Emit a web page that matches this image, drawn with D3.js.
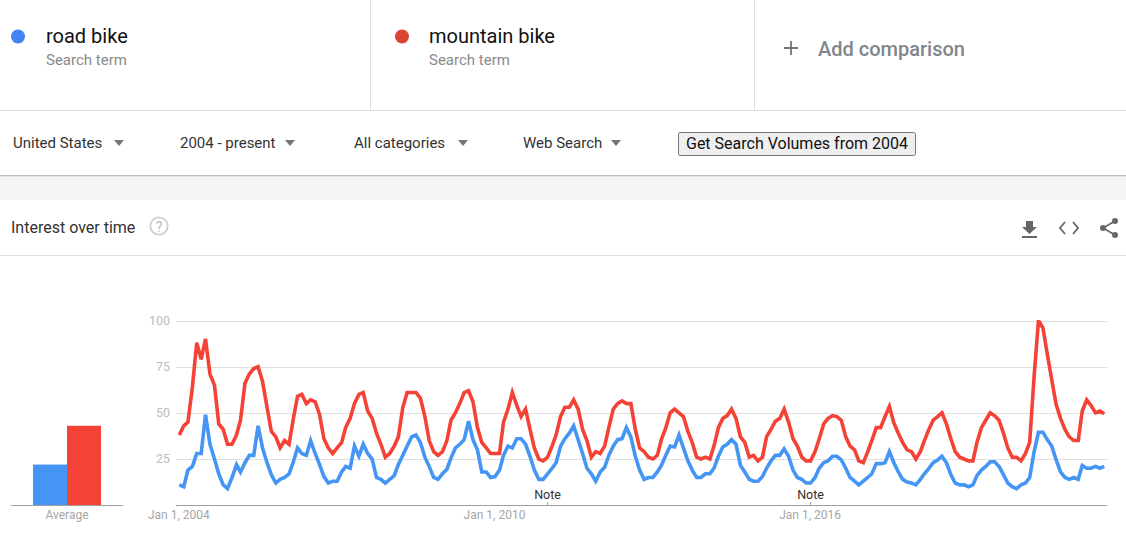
<!DOCTYPE html>
<html>
<head>
<meta charset="utf-8">
<script src="https://cdnjs.cloudflare.com/ajax/libs/d3/7.8.5/d3.min.js"></script>
<style>
  html, body { margin: 0; padding: 0; background: #fff; overflow: hidden; }
  svg { display: block; font-family: Roboto, Arial, sans-serif; }
</style>
</head>
<body>
<div id="chart"></div>
<script>
// monthly values from Jan 2004
const roadBike = [
  11, 10, 19, 21, 28, 28, 49, 33, 25, 17, 11, 9,
  15, 22, 18, 23, 27, 27, 43, 31, 23, 16.5, 12, 14,
  15, 17, 23, 31, 28, 27, 35, 28, 22, 15.5, 12, 13,
  13, 18, 21, 20, 32, 26.5, 33, 28, 25, 15, 14, 12,
  14, 16, 22, 27, 32, 37, 38, 34, 26, 21, 15, 14,
  17, 19.5, 25.5, 31, 33, 35.5, 45.5, 35.5, 30, 18, 18, 15,
  15.5, 19, 27, 32, 31, 36, 36, 33, 26.5, 19, 14, 14,
  17, 20, 23, 32, 36, 39, 43, 35.5, 28, 20, 17, 13,
  18, 20.5, 27, 32, 35.5, 36, 42, 37, 26.5, 19, 14, 15,
  15, 18, 21.5, 27, 32, 31.5, 38, 31, 24, 19, 15, 15,
  17, 17, 20, 26.5, 31.5, 33, 35.5, 33, 21.5, 18, 14, 13,
  13, 15.5, 20, 24, 27, 27, 30.5, 26.5, 19, 15, 14, 12,
  12, 15, 20, 23, 24, 26.5, 26.5, 24.5, 20, 15, 13, 11,
  13, 15, 17, 22.5, 22.5, 23, 29, 23, 18, 14, 12.5, 12,
  11, 14, 17, 20, 23, 24.5, 26.5, 23, 16.5, 12, 11, 11,
  10, 11, 16, 19, 21, 23.5, 23.5, 21, 16.5, 12, 10, 9,
  11, 12, 15, 29, 39.5, 39.5, 35.5, 32, 24.5, 18, 15, 14,
  15, 14, 21.5, 20, 20, 21, 20, 21
];
const mountainBike = [
  38, 43, 45, 64, 88, 79, 90, 71, 65, 44, 41, 33,
  33, 38, 46, 66, 71, 74, 75, 67, 53, 40, 37, 31,
  35, 33, 46, 59, 60, 55, 57, 56, 49, 36, 31, 28,
  31, 34, 42, 47, 55, 60, 61, 51, 47, 39, 33, 26,
  28, 32, 37, 53, 61, 61, 61, 58, 48, 35, 29, 27,
  29, 35, 46, 50, 55, 61, 62, 56, 42, 34, 31, 28,
  28, 28, 45, 52, 61, 54, 48, 52, 41, 31, 25, 24,
  26, 32, 38, 48, 53, 53, 57, 52, 41, 35, 26, 29,
  28, 32, 42, 52, 55, 56.5, 55, 55, 41, 31, 29, 26,
  25, 27, 35.5, 42, 50, 52, 50, 48, 40, 34, 26, 25,
  26, 25, 32, 42, 47, 48.5, 52, 47, 37, 34, 26, 27,
  24, 26, 37, 41, 45.5, 47, 52, 45, 36, 32, 26, 24,
  24, 29, 36, 44, 47, 48.5, 48, 46, 37, 32, 30, 24,
  23, 29, 35, 42, 42, 48, 53.5, 44.5, 39, 34, 30, 29,
  25, 29, 35, 41, 46, 48, 50, 44, 36, 29, 26, 25,
  24, 24, 34, 42, 46, 50, 48.5, 46, 39, 31, 26, 26,
  24, 28, 34, 70, 100, 96, 82, 68, 54.5, 47, 41, 37,
  35, 35, 51, 57, 54, 50, 51, 49.5
];
const averages = [22, 43];
const termNames = ['road bike', 'mountain bike'];
const filters = ['United States', '2004 - present', 'All categories', 'Web Search'];
const yTicks = [25, 50, 75, 100];
const xTickDates = [new Date(Date.UTC(2004, 0, 1)), new Date(Date.UTC(2010, 0, 1)), new Date(Date.UTC(2016, 0, 1))];
const noteDates = [new Date(Date.UTC(2011, 0, 1)), new Date(Date.UTC(2016, 0, 1))];

const W = 1126, H = 548;
const FILL_BLUE = '#4495f4', FILL_RED = '#f44336';

const svg = d3.select('#chart').append('svg').attr('width', W).attr('height', H);

const hline = (x1, x2, y, c) => svg.append('line')
  .attr('x1', x1).attr('x2', x2).attr('y1', y).attr('y2', y).attr('stroke', c);
const vline = (x, y1, y2, c) => svg.append('line')
  .attr('x1', x).attr('x2', x).attr('y1', y1).attr('y2', y2).attr('stroke', c);
const label = (x, y, s, size, fill) => svg.append('text')
  .attr('x', x).attr('y', y).attr('font-size', size).attr('fill', fill).text(s);

// --- search term header ---
vline(370.5, 0, 110, '#e0e0e0');
vline(754.5, 0, 110, '#e0e0e0');
hline(0, W, 110.5, '#e0e0e0');

[[18, 46, '#4285f4'], [402, 429, '#db4437']].forEach(([cx, tx, c], i) => {
  svg.append('circle').attr('cx', cx).attr('cy', 36.5).attr('r', 7).attr('fill', c);
  label(tx, 43, termNames[i], 20, '#111');
  label(tx, 65, 'Search term', 15, '#8a8a8a');
});

svg.append('path').attr('d', 'M791 41V55M784 48H798').attr('stroke', '#757575').attr('stroke-width', 1.8);
label(818, 56, 'Add comparison', 20, '#80868b').attr('font-weight', 500);

// --- filter row ---
const filterX = [13, 180, 354, 523];
const arrowX = [119, 290, 463, 616];
filters.forEach((f, i) => {
  label(filterX[i], 148, f, 15, '#333');
  const a = arrowX[i];
  svg.append('path').attr('d', `M${a - 5} 140H${a + 5}L${a} 146Z`).attr('fill', '#757575');
});

svg.append('rect').attr('x', 678.5).attr('y', 132.5).attr('width', 237).attr('height', 23)
  .attr('rx', 2).attr('fill', '#efefef').attr('stroke', '#767676');
label(797, 149, 'Get Search Volumes from 2004', 16, '#111').attr('text-anchor', 'middle');

// --- grey band with shadow ---
svg.append('rect').attr('x', 0).attr('y', 176).attr('width', W).attr('height', 24).attr('fill', '#f5f5f5');
hline(0, W, 175.5, '#bdbdbd');
hline(0, W, 176.5, '#e3e3e3');

// --- card title ---
label(11, 233, 'Interest over time', 16, '#333');
svg.append('circle').attr('cx', 159).attr('cy', 226).attr('r', 8.7)
  .attr('fill', 'none').attr('stroke', '#cfcfcf').attr('stroke-width', 1.8);
label(159, 231.5, '?', 15, '#bdbdbd').attr('text-anchor', 'middle');
hline(0, W, 255.5, '#e0e0e0');

// icons
svg.append('path').attr('d', 'M1026 221H1033V227H1037L1029.5 234L1022 227H1026ZM1022 236H1037V238H1022Z').attr('fill', '#666');
svg.append('path').attr('d', 'M1065 222L1060 228L1065 234M1073 222L1078 228L1073 234')
  .attr('fill', 'none').attr('stroke', '#666').attr('stroke-width', 1.8);
svg.append('path').attr('d', 'M1115 221L1103 228L1115 235').attr('fill', 'none').attr('stroke', '#666').attr('stroke-width', 1.6);
[[1115, 221], [1103, 228], [1115, 235]].forEach(([cx, cy]) => {
  svg.append('circle').attr('cx', cx).attr('cy', cy).attr('r', 3).attr('fill', '#666');
});

// --- scales ---
const y = d3.scaleLinear().domain([0, 100]).range([505.2, 320.5]);
const x = d3.scaleUtc()
  .domain([new Date(Date.UTC(2004, 0, 1)), new Date(Date.UTC(2016, 0, 1))])
  .range([179.3, 810.6]);
const months = roadBike.map((_, i) => new Date(Date.UTC(2004, i, 1)));

// average bars
const barX = d3.scaleBand().domain(termNames).range([33, 101]);
svg.append('g').selectAll('rect').data(averages).join('rect')
  .attr('x', (d, i) => barX(termNames[i]))
  .attr('width', barX.bandwidth())
  .attr('y', d => y(d))
  .attr('height', d => y(0) - y(d))
  .attr('fill', (d, i) => i === 0 ? FILL_BLUE : FILL_RED);
hline(11, 123, 505.5, '#9e9e9e');
label(67, 519, 'Average', 12, '#a6a6a6').attr('text-anchor', 'middle');

// gridlines and tick labels
const grid = svg.append('g');
yTicks.forEach(t => {
  grid.append('line').attr('x1', 176).attr('x2', 1107)
    .attr('y1', Math.round(y(t)) + 0.5).attr('y2', Math.round(y(t)) + 0.5)
    .attr('stroke', '#e0e0e0');
  grid.append('text').attr('x', 170).attr('y', y(t) + 4)
    .attr('text-anchor', 'end').attr('font-size', 12.5).attr('fill', '#bdbdbd').text(t);
});
hline(176, 1107, 505.5, '#9e9e9e');

const fmt = d3.utcFormat('%b %-d, %Y');
xTickDates.forEach(d => {
  svg.append('text').attr('x', x(d) - 0.5).attr('y', 519)
    .attr('text-anchor', 'middle').attr('font-size', 12).attr('fill', '#a6a6a6')
    .text(fmt(d));
});

noteDates.forEach(d => {
  vline(Math.floor(x(d)) + 0.5, 502, 505, '#9e9e9e');
  svg.append('text').attr('x', x(d)).attr('y', 499)
    .attr('text-anchor', 'middle').attr('font-size', 12.5).attr('fill', '#333').text('Note');
});

// plot area clip, the 100 peak is cut off at the top line
svg.append('clipPath').attr('id', 'plot-clip').append('rect')
  .attr('x', 176).attr('y', y(100) - 0.5).attr('width', 931).attr('height', y(0) - y(100) + 0.5);

// lines
const line = d3.line().x((d, i) => x(months[i])).y(d => y(d));
const lines = svg.append('g').attr('clip-path', 'url(#plot-clip)');
[[roadBike, FILL_BLUE], [mountainBike, FILL_RED]].forEach(([s, c]) => {
  lines.append('path').datum(s)
    .attr('d', line)
    .attr('fill', 'none')
    .attr('stroke', c)
    .attr('stroke-width', 3.6);
});
</script>
</body>
</html>
